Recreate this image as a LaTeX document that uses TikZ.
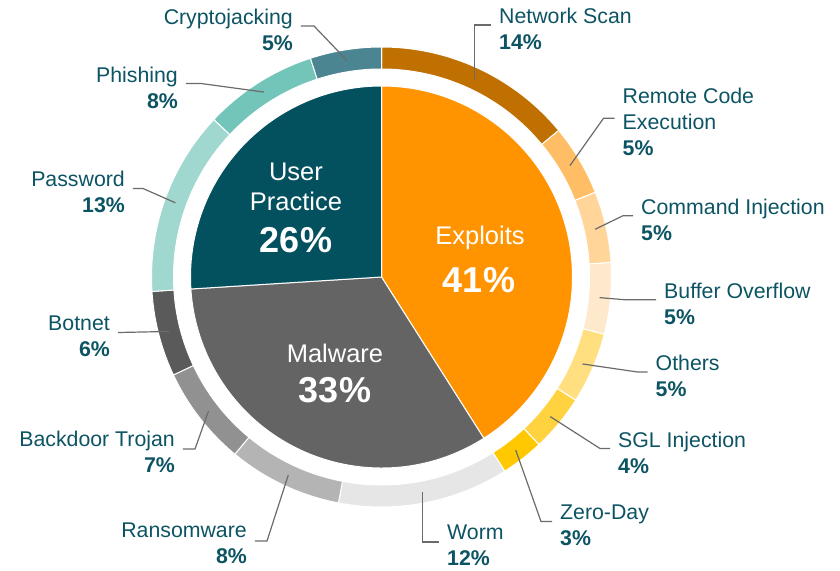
\documentclass[tikz,border=0pt]{standalone}
\usepackage{fontspec}
\setmainfont{Liberation Sans}
\usepackage{tikz}

\definecolor{labelcol}{HTML}{0C5463}
\definecolor{leadgray}{HTML}{6B6B6B}
\definecolor{exploitcol}{HTML}{FF9400}
\definecolor{malwarecol}{HTML}{646464}
\definecolor{usercol}{HTML}{03505F}
\definecolor{nscancol}{HTML}{BF7000}
\definecolor{rcecol}{HTML}{FFBE66}
\definecolor{cinjcol}{HTML}{FFD59A}
\definecolor{bovercol}{HTML}{FFE9CC}
\definecolor{otherscol}{HTML}{FFDF80}
\definecolor{sglcol}{HTML}{FFD23F}
\definecolor{zdaycol}{HTML}{FFC800}
\definecolor{wormcol}{HTML}{E6E6E6}
\definecolor{ransomcol}{HTML}{B4B4B4}
\definecolor{backdoorcol}{HTML}{919191}
\definecolor{botnetcol}{HTML}{5A5A5A}
\definecolor{passwcol}{HTML}{A0D7CF}
\definecolor{phishcol}{HTML}{73C5B9}
\definecolor{cryptocol}{HTML}{4C8592}

\begin{document}
\begin{tikzpicture}[x=1pt,y=1pt,
  seg/.style={draw=white,line width=1pt},
  lbl/.style={text=labelcol,font=\fontsize{21.3}{26}\selectfont,inner xsep=8pt,inner ysep=0pt},
  lead/.style={draw=leadgray,line width=1.2pt},
  cname/.style={text=white,font=\fontsize{25.5}{30}\selectfont,align=center,inner sep=0pt},
  cpct/.style={text=white,font=\fontsize{36}{40}\selectfont\bfseries,inner sep=0pt}]
\useasboundingbox (-381.5,-293) rectangle (458.5,277);
% inner pie
\filldraw[seg,fill=exploitcol] (0,0) -- (90:191pt) arc[start angle=90,end angle=-57.6,radius=191pt] -- cycle;
\filldraw[seg,fill=malwarecol] (0,0) -- (-57.6:191pt) arc[start angle=-57.6,end angle=-176.4,radius=191pt] -- cycle;
\filldraw[seg,fill=usercol] (0,0) -- (-176.4:191pt) arc[start angle=-176.4,end angle=-270,radius=191pt] -- cycle;
% outer ring
\filldraw[seg,fill=nscancol] (90:230pt) arc[start angle=90,end angle=39.6,radius=230pt] -- (39.6:208pt) arc[start angle=39.6,end angle=90,radius=208pt] -- cycle;
\filldraw[seg,fill=rcecol] (39.6:230pt) arc[start angle=39.6,end angle=21.6,radius=230pt] -- (21.6:208pt) arc[start angle=21.6,end angle=39.6,radius=208pt] -- cycle;
\filldraw[seg,fill=cinjcol] (21.6:230pt) arc[start angle=21.6,end angle=3.6,radius=230pt] -- (3.6:208pt) arc[start angle=3.6,end angle=21.6,radius=208pt] -- cycle;
\filldraw[seg,fill=bovercol] (3.6:230pt) arc[start angle=3.6,end angle=-14.4,radius=230pt] -- (-14.4:208pt) arc[start angle=-14.4,end angle=3.6,radius=208pt] -- cycle;
\filldraw[seg,fill=otherscol] (-14.4:230pt) arc[start angle=-14.4,end angle=-32.4,radius=230pt] -- (-32.4:208pt) arc[start angle=-32.4,end angle=-14.4,radius=208pt] -- cycle;
\filldraw[seg,fill=sglcol] (-32.4:230pt) arc[start angle=-32.4,end angle=-46.8,radius=230pt] -- (-46.8:208pt) arc[start angle=-46.8,end angle=-32.4,radius=208pt] -- cycle;
\filldraw[seg,fill=zdaycol] (-46.8:230pt) arc[start angle=-46.8,end angle=-57.6,radius=230pt] -- (-57.6:208pt) arc[start angle=-57.6,end angle=-46.8,radius=208pt] -- cycle;
\filldraw[seg,fill=wormcol] (-57.6:230pt) arc[start angle=-57.6,end angle=-100.8,radius=230pt] -- (-100.8:208pt) arc[start angle=-100.8,end angle=-57.6,radius=208pt] -- cycle;
\filldraw[seg,fill=ransomcol] (-100.8:230pt) arc[start angle=-100.8,end angle=-129.6,radius=230pt] -- (-129.6:208pt) arc[start angle=-129.6,end angle=-100.8,radius=208pt] -- cycle;
\filldraw[seg,fill=backdoorcol] (-129.6:230pt) arc[start angle=-129.6,end angle=-154.8,radius=230pt] -- (-154.8:208pt) arc[start angle=-154.8,end angle=-129.6,radius=208pt] -- cycle;
\filldraw[seg,fill=botnetcol] (-154.8:230pt) arc[start angle=-154.8,end angle=-176.4,radius=230pt] -- (-176.4:208pt) arc[start angle=-176.4,end angle=-154.8,radius=208pt] -- cycle;
\filldraw[seg,fill=passwcol] (-176.4:230pt) arc[start angle=-176.4,end angle=-223.2,radius=230pt] -- (-223.2:208pt) arc[start angle=-223.2,end angle=-176.4,radius=208pt] -- cycle;
\filldraw[seg,fill=phishcol] (-223.2:230pt) arc[start angle=-223.2,end angle=-252,radius=230pt] -- (-252:208pt) arc[start angle=-252,end angle=-223.2,radius=208pt] -- cycle;
\filldraw[seg,fill=cryptocol] (-252:230pt) arc[start angle=-252,end angle=-270,radius=230pt] -- (-270:208pt) arc[start angle=-270,end angle=-252,radius=208pt] -- cycle;
% texts inside the pie
\node[cname] (username) at (-85.5,90) {User\\Practice};
\node[cpct] (userpct) at (-85.5,37) {26\%};
\node[cname] (exploitname) at (98.5,39) {Exploits};
\node[cpct] (exploitpct) at (97.5,-3) {41\%};
\node[cname] (malwarename) at (-46.5,-76) {Malware};
\node[cpct] (malwarepct) at (-46.5,-113) {33\%};
% points on the ring
\coordinate (nscanp) at (64.8:219pt);
\coordinate (rcep) at (30.6:219pt);
\coordinate (cinjp) at (12.6:219pt);
\coordinate (boverp) at (-5.4:219pt);
\coordinate (othersp) at (-23.4:219pt);
\coordinate (sglp) at (-39.6:219pt);
\coordinate (zdayp) at (-52.2:219pt);
\coordinate (wormp) at (-79.2:219pt);
\coordinate (ransomp) at (-115.2:219pt);
\coordinate (backdoorp) at (-142.2:219pt);
\coordinate (botnetp) at (-165.6:219pt);
\coordinate (passwp) at (-199.8:219pt);
\coordinate (phishp) at (-237.6:219pt);
\coordinate (cryptop) at (-261:219pt);
% labels
\node[lbl,anchor=west,align=left] (nscan) at (109.5,248) {Network Scan\\\textbf{14\%}};
\node[lbl,anchor=west,align=left] (rce) at (233,154.7) {Remote Code\\Execution\\\textbf{5\%}};
\node[lbl,anchor=west,align=left] (cinj) at (251.5,57.3) {Command Injection\\\textbf{5\%}};
\node[lbl,anchor=west,align=left] (bover) at (274.5,-26.7) {Buffer Overflow\\\textbf{5\%}};
\node[lbl,anchor=west,align=left] (others) at (266,-99) {Others\\\textbf{5\%}};
\node[lbl,anchor=west,align=left] (sgl) at (228.5,-175.5) {SGL Injection\\\textbf{4\%}};
\node[lbl,anchor=west,align=left] (zday) at (170.5,-248.5) {Zero-Day\\\textbf{3\%}};
\node[lbl,anchor=west,align=left] (worm) at (57.5,-268) {Worm\\\textbf{12\%}};
\node[lbl,anchor=east,align=right] (ransom) at (-126.5,-266) {Ransomware\\\textbf{8\%}};
\node[lbl,anchor=east,align=right] (backdoor) at (-198.5,-175) {Backdoor Trojan\\\textbf{7\%}};
\node[lbl,anchor=east,align=right] (botnet) at (-263.5,-59.5) {Botnet\\\textbf{6\%}};
\node[lbl,anchor=east,align=right] (passw) at (-248.5,85.5) {Password\\\textbf{13\%}};
\node[lbl,anchor=east,align=right] (phish) at (-195.5,189.5) {Phishing\\\textbf{8\%}};
\node[lbl,anchor=east,align=right] (crypto) at (-80.5,247) {Cryptojacking\\\textbf{5\%}};
% leader lines
\draw[lead] (nscanp) |- ([yshift=4pt]nscan.west);
\draw[lead] (rcep) -- ([xshift=-11pt,yshift=4pt]rce.west) -- ([yshift=4pt]rce.west);
\draw[lead] (cinjp) -- ([xshift=-10pt,yshift=4pt]cinj.west) -- ([yshift=4pt]cinj.west);
\draw[lead] (boverp) -- ([xshift=-32pt,yshift=4pt]bover.west) -- ([yshift=4pt]bover.west);
\draw[lead] (othersp) -- ([xshift=-10pt,yshift=4pt]others.west) -- ([yshift=4pt]others.west);
\draw[lead] (sglp) -- ([xshift=-10pt,yshift=4pt]sgl.west) -- ([yshift=4pt]sgl.west);
\draw[lead] (zdayp) -- ([xshift=-11pt,yshift=4pt]zday.west) -- ([yshift=4pt]zday.west);
\draw[lead] (wormp) |- ([yshift=3pt]worm.west);
\draw[lead] (ransomp) -- ([xshift=12pt,yshift=2pt]ransom.east) -- ([yshift=2pt]ransom.east);
\draw[lead] (backdoorp) -- ([xshift=12pt,yshift=3pt]backdoor.east) -- ([yshift=3pt]backdoor.east);
\draw[lead] (botnetp) -- ([yshift=4pt]botnet.east);
\draw[lead] (passwp) -- ([xshift=10pt,yshift=3pt]passw.east) -- ([yshift=3pt]passw.east);
\draw[lead] (phishp) -- ([xshift=15pt,yshift=4pt]phish.east) -- ([yshift=4pt]phish.east);
\draw[lead] (cryptop) -- ([xshift=13pt,yshift=4pt]crypto.east) -- ([yshift=4pt]crypto.east);
\end{tikzpicture}
\end{document}
